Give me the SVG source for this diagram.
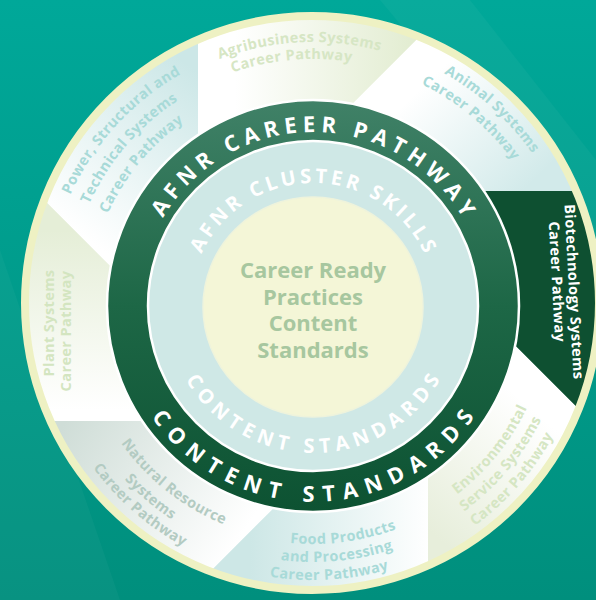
<svg xmlns="http://www.w3.org/2000/svg" width="596" height="600" viewBox="0 0 596 600">
<style>
.seg-label{font-family:"Open Sans","Liberation Sans",sans-serif;font-weight:700;font-size:14.5px;letter-spacing:0.4px;}
.ring-label{font-family:"Open Sans","Liberation Sans",sans-serif;font-weight:700;fill:#ffffff;}
.center-label{font-family:"Open Sans","Liberation Sans",sans-serif;font-weight:700;font-size:22px;fill:#a7c79f;text-anchor:middle;}
.mid{text-anchor:middle;}
</style>
<defs>
  <linearGradient id="gBg" x1="0" y1="0" x2="0" y2="1">
    <stop offset="0" stop-color="#00a899"/>
    <stop offset="1" stop-color="#008f7d"/>
  </linearGradient>
  <linearGradient id="gRing" x1="0" y1="0" x2="0" y2="1">
    <stop offset="0" stop-color="#408167"/>
    <stop offset="0.5" stop-color="#1d6746"/>
    <stop offset="1" stop-color="#0d5232"/>
  </linearGradient>
  <linearGradient id="gAgri" gradientUnits="userSpaceOnUse" x1="235" y1="0" x2="410" y2="0">
    <stop offset="0" stop-color="#ffffff"/><stop offset="1" stop-color="#e3edd2"/>
  </linearGradient>
  <linearGradient id="gAnimal" gradientUnits="userSpaceOnUse" x1="440" y1="70" x2="540" y2="175">
    <stop offset="0" stop-color="#ffffff"/><stop offset="1" stop-color="#d2eaea"/>
  </linearGradient>
  <linearGradient id="gEnv" gradientUnits="userSpaceOnUse" x1="440" y1="540" x2="545" y2="420">
    <stop offset="0" stop-color="#e7eedb"/><stop offset="1" stop-color="#ffffff"/>
  </linearGradient>
  <linearGradient id="gFood" gradientUnits="userSpaceOnUse" x1="250" y1="0" x2="430" y2="0">
    <stop offset="0" stop-color="#cde7e6"/><stop offset="1" stop-color="#ffffff"/>
  </linearGradient>
  <linearGradient id="gNat" gradientUnits="userSpaceOnUse" x1="60" y1="430" x2="235" y2="545">
    <stop offset="0" stop-color="#cfddd7"/><stop offset="1" stop-color="#ffffff"/>
  </linearGradient>
  <linearGradient id="gPlant" gradientUnits="userSpaceOnUse" x1="0" y1="230" x2="0" y2="410">
    <stop offset="0" stop-color="#e5eed7"/><stop offset="1" stop-color="#ffffff"/>
  </linearGradient>
  <linearGradient id="gPower" gradientUnits="userSpaceOnUse" x1="195" y1="70" x2="75" y2="230">
    <stop offset="0" stop-color="#cce7e7"/><stop offset="1" stop-color="#ffffff"/>
  </linearGradient>
  <clipPath id="clipOuter"><circle cx="312" cy="303" r="287"/></clipPath>

  <path id="pOuterTop" d="M139 306 A174 174 0 0 1 487 306"/>
  <path id="pOuterBot" d="M117 306 A196 196 0 0 0 509 306"/>
  <path id="pInnerTop" d="M190 306 A123 123 0 0 1 436 306"/>
  <path id="pInnerBot" d="M166 306 A147 147 0 0 0 460 306"/>

  <path id="pAgri1" d="M133.0 112.9 A264 264 0 0 1 471.9 95.2"/>
  <path id="pAgri2" d="M138.3 131.3 A247 247 0 0 1 454.7 103.7"/>
  <path id="pAni1" d="M323.7 39.2 A267 267 0 0 1 577.6 270.2"/>
  <path id="pAni2" d="M313 59 A247 247 0 0 1 556.2 263.1"/>
  <path id="pPow1" d="M46.3 294.4 A267 267 0 0 1 278.2 41.3"/>
  <path id="pPow2" d="M67.0 303.4 A246 246 0 0 1 272.8 63.3"/>
  <path id="pPow3" d="M88.0 307.6 A225 225 0 0 1 272.4 84.7"/>
  <path id="pEnv1" d="M358.3 538.7 A237 237 0 0 0 550.0 301.9"/>
  <path id="pEnv2" d="M357.3 557.1 A255 255 0 0 0 568 306"/>
  <path id="pEnv3" d="M355.7 575.6 A273 273 0 0 0 586.0 310.8"/>
  <path id="pFood1" d="M185.1 506.7 A238 238 0 0 0 488.5 466.8"/>
  <path id="pFood2" d="M168.0 517.0 A256 256 0 0 0 495.6 485.4"/>
  <path id="pFood3" d="M150.0 526.3 A274 274 0 0 0 501.6 504.8"/>
  <path id="pNat1" d="M81.9 353.9 A236 236 0 0 0 320.0 541.9"/>
  <path id="pNat2" d="M60.6 348.7 A256 256 0 0 0 311.2 562.0"/>
  <path id="pNat3" d="M43.4 348.7 A273 273 0 0 0 308.2 579.0"/>
</defs>

<g id="background">
  <rect x="0" y="0" width="596" height="600" fill="url(#gBg)"/>
  <polygon points="380,0 470,0 596,160 596,260" fill="#ffffff" opacity="0.035"/>
  <polygon points="0,250 0,600 120,600" fill="#ffffff" opacity="0.03"/>
</g>

<g id="outer-disc">
  <circle cx="312" cy="303" r="287" fill="#ffffff"/>
</g>

<g clip-path="url(#clipOuter)">
  <g id="seg-agribusiness">
    <polygon points="198,306 198,-294 500,-574 656,-199.6 231.7,224.7" fill="url(#gAgri)"/>
    <text class="seg-label mid" fill="#d6e6c4"><textPath href="#pAgri1" startOffset="50%">Agribusiness Systems</textPath></text>
    <text class="seg-label mid" fill="#d6e6c4"><textPath href="#pAgri2" startOffset="50%">Career Pathway</textPath></text>
  </g>
  <g id="seg-animal">
    <polygon points="231.7,224.7 656,-199.6 1068,-184 913,191 313,191" fill="url(#gAnimal)"/>
    <text class="seg-label mid" fill="#a8dad8"><textPath href="#pAni1" startOffset="50%">Animal Systems</textPath></text>
    <text class="seg-label mid" fill="#a8dad8"><textPath href="#pAni2" startOffset="50%">Career Pathway</textPath></text>
  </g>
  <g id="seg-biotechnology">
    <polygon points="313,191 913,191 1193,493 818.6,649 394.3,224.7" fill="#0e5031"/>
    <text class="seg-label mid" fill="#ffffff" transform="translate(569,292) rotate(87)">Biotechnology Systems</text>
    <text class="seg-label mid" fill="#ffffff" transform="translate(552,282) rotate(87)">Career Pathway</text>
  </g>
  <g id="seg-environmental">
    <polygon points="394.3,224.7 818.6,649 803,1061 428,906 428,306" fill="url(#gEnv)"/>
    <text class="seg-label mid" fill="#d5e6c3"><textPath href="#pEnv1" startOffset="50%">Environmental</textPath></text>
    <text class="seg-label mid" fill="#d5e6c3"><textPath href="#pEnv2" startOffset="50%">Service Systems</textPath></text>
    <text class="seg-label mid" fill="#d5e6c3"><textPath href="#pEnv3" startOffset="50%">Career Pathway</textPath></text>
  </g>
  <g id="seg-food">
    <polygon points="428,306 428,906 126,1186 -30,811.6 394.3,387.3" fill="url(#gFood)"/>
    <text class="seg-label mid" fill="#a8dad8"><textPath href="#pFood1" startOffset="50%">Food Products</textPath></text>
    <text class="seg-label mid" fill="#a8dad8"><textPath href="#pFood2" startOffset="50%">and Processing</textPath></text>
    <text class="seg-label mid" fill="#a8dad8"><textPath href="#pFood3" startOffset="50%">Career Pathway</textPath></text>
  </g>
  <g id="seg-natural-resource">
    <polygon points="394.3,387.3 -30,811.6 -442,796 -287,421 313,421" fill="url(#gNat)"/>
    <text class="seg-label mid" fill="#b3cbc2"><textPath href="#pNat1" startOffset="50%">Natural Resource</textPath></text>
    <text class="seg-label mid" fill="#b3cbc2"><textPath href="#pNat2" startOffset="50%">Systems</textPath></text>
    <text class="seg-label mid" fill="#b3cbc2"><textPath href="#pNat3" startOffset="50%">Career Pathway</textPath></text>
  </g>
  <g id="seg-plant">
    <polygon points="313,421 -287,421 -567,119 -192.6,-37 231.7,387.3" fill="url(#gPlant)"/>
    <text class="seg-label mid" fill="#d3e5c0" transform="translate(54,323) rotate(-90)">Plant Systems</text>
    <text class="seg-label mid" fill="#d3e5c0" transform="translate(71,331) rotate(-90)">Career Pathway</text>
  </g>
  <g id="seg-power">
    <polygon points="231.7,387.3 -192.6,-37 -177,-449 198,-294 198,306" fill="url(#gPower)"/>
    <text class="seg-label mid" fill="#a8dad8"><textPath href="#pPow1" startOffset="50%">Power, Structural and</textPath></text>
    <text class="seg-label mid" fill="#a8dad8"><textPath href="#pPow2" startOffset="50%">Technical Systems</textPath></text>
    <text class="seg-label mid" fill="#a8dad8"><textPath href="#pPow3" startOffset="50%">Career Pathway</textPath></text>
  </g>
</g>

<g id="outer-border">
  <circle cx="312" cy="303" r="287" fill="none" stroke="#eef1c3" stroke-width="8"/>
</g>

<g id="ring-career-pathway">
  <circle cx="313" cy="306" r="206" fill="url(#gRing)" stroke="#ffffff" stroke-width="2.5"/>
  <text class="ring-label mid" font-size="22"><textPath href="#pOuterTop" startOffset="50%" textLength="362" lengthAdjust="spacing">AFNR CAREER PATHWAY</textPath></text>
  <text class="ring-label mid" font-size="22"><textPath href="#pOuterBot" startOffset="50%" textLength="380" lengthAdjust="spacing">CONTENT STANDARDS</textPath></text>
</g>

<g id="ring-cluster-skills">
  <circle cx="313" cy="306" r="165" fill="#cfe8e6" stroke="#ffffff" stroke-width="2.5"/>
  <text class="ring-label mid" font-size="20"><textPath href="#pInnerTop" startOffset="50%" textLength="279" lengthAdjust="spacing">AFNR CLUSTER SKILLS</textPath></text>
  <text class="ring-label mid" font-size="20"><textPath href="#pInnerBot" startOffset="50%" textLength="308" lengthAdjust="spacing">CONTENT STANDARDS</textPath></text>
</g>

<g id="center-career-ready">
  <circle cx="313" cy="307" r="110" fill="#f4f6d7" stroke="#eef3dc" stroke-width="1.5"/>
  <text class="center-label" x="313" y="278">Career Ready</text>
  <text class="center-label" x="313" y="304.5">Practices</text>
  <text class="center-label" x="313" y="331">Content</text>
  <text class="center-label" x="313" y="357.5">Standards</text>
</g>
</svg>
